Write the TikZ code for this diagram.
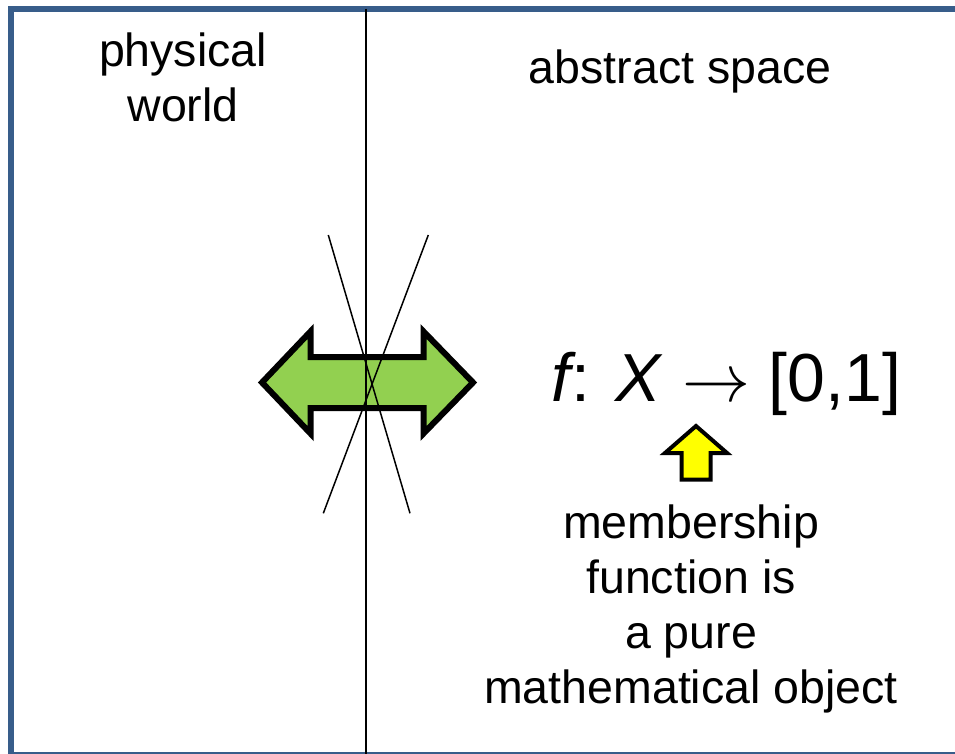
\documentclass[tikz,border=0pt]{standalone}
\usepackage{fix-cm}
\usepackage{fontspec}
\setmainfont{Liberation Sans}
\usetikzlibrary{positioning}

\definecolor{framecol}{RGB}{56,93,138}
\definecolor{arrowgreen}{RGB}{146,208,80}
\definecolor{arrowyellow}{RGB}{255,255,0}

\tikzset{
  label/.style={inner sep=0pt, align=center, font=\fontsize{46.5}{55}\selectfont},
  blockarrow/.style={draw=black, line join=miter, miter limit=10},
}

\begin{document}
\begin{tikzpicture}[x=1pt, y=-1pt]
\useasboundingbox (0,0) rectangle (955,754);
\clip (0,0) rectangle (955,754);
\fill[white] (0,0) rectangle (955,754);
\draw[framecol, line width=6pt] (11,9) rectangle (965,755);

% the two worlds
\node[label, anchor=north] (phys) at (183,33) {physical\\world};
\node[label, anchor=base] (abst) at (680,84) {abstract space};

% double arrow between them
\draw[blockarrow, fill=arrowgreen, line width=6pt]
  (262,382.5) -- (310.5,331.5) -- (310.5,357) -- (423.5,357) -- (423.5,331.5)
  -- (473,382.5) -- (423.5,433.5) -- (423.5,408) -- (310.5,408) -- (310.5,433.5) -- cycle;

\coordinate (divtop) at (365.5,9);
\coordinate (divbot) at (365.5,754);
\draw[line width=2pt] (divtop) -- (divbot);

% crossed out
\coordinate (xa) at (328.3,235);
\coordinate (xb) at (410,513.3);
\coordinate (xc) at (428.3,235);
\coordinate (xd) at (323.3,513.3);
\draw[line width=1.5pt] (xa) -- (xb);
\draw[line width=1.5pt] (xc) -- (xd);

\node[anchor=base, inner sep=0pt, font=\fontsize{68}{80}\selectfont] (func) at (726.5,401.7)
  {\textit{f}\kern-5pt: \textit{X} $\rightarrow$ [0,1]};

\draw[blockarrow, fill=arrowyellow, line width=4pt]
  (696,426) -- (727,453) -- (710.5,453) -- (710.5,479.5) -- (681.5,479.5)
  -- (681.5,453) -- (665,453) -- cycle;

\node[label, anchor=north] (memb) at (691,505)
  {membership\\function is\\a pure\\mathematical object};
\end{tikzpicture}
\end{document}
